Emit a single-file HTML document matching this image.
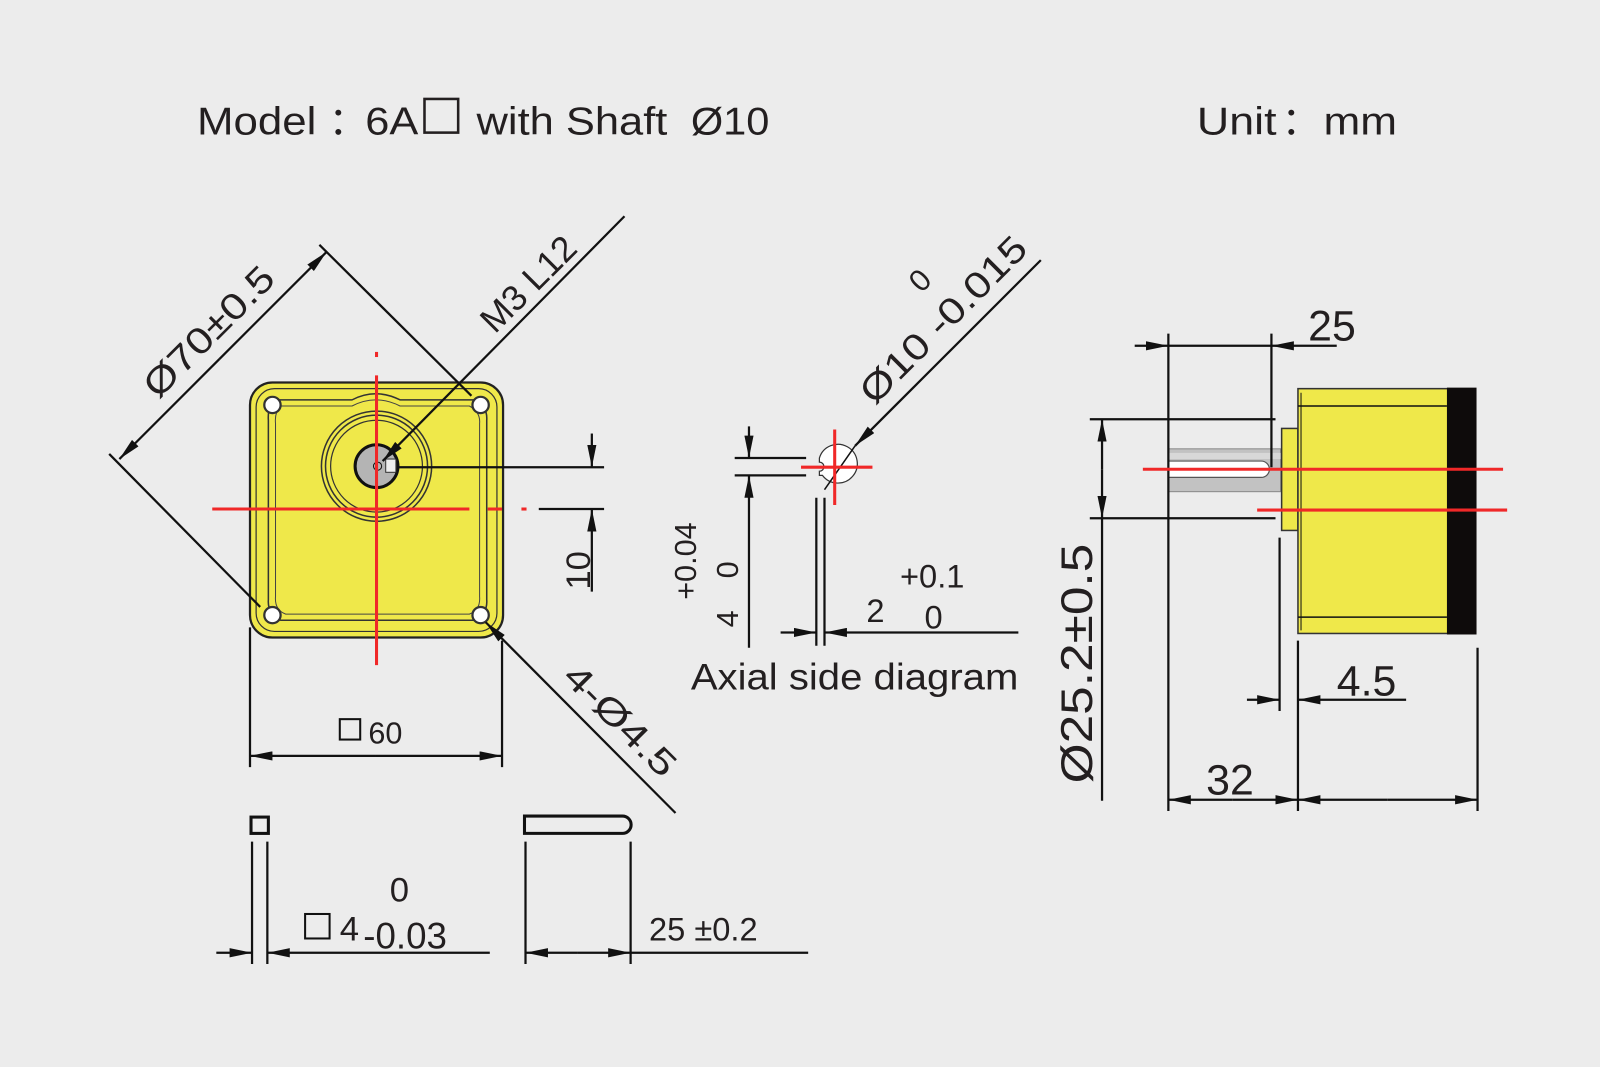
<!DOCTYPE html>
<html><head><meta charset="utf-8"><style>
html,body{margin:0;padding:0;background:#ececec;}
svg{display:block;}
text{font-family:"Liberation Sans",sans-serif;fill:#231f20;}
</style></head><body>
<svg width="1600" height="1067" viewBox="0 0 1568 1046" preserveAspectRatio="none" xmlns="http://www.w3.org/2000/svg">
<defs>
<marker id="a" viewBox="0 0 22 9" refX="22" refY="4.5" markerWidth="22" markerHeight="9" markerUnits="userSpaceOnUse" orient="auto"><path d="M0,0 L22,4.5 L0,9 z" fill="#111"/></marker>
</defs>
<rect width="1568" height="1046" fill="#ececec"/>
<text x="193" y="132" font-size="38" textLength="117" lengthAdjust="spacingAndGlyphs">Model</text>
<text x="322" y="132" font-size="38">：</text>
<text x="358" y="132" font-size="38" textLength="52" lengthAdjust="spacingAndGlyphs">6A</text>
<rect x="416" y="97" width="33" height="33" fill="none" stroke="#231f20" stroke-width="2.5"/>
<text x="467" y="132" font-size="38" textLength="187" lengthAdjust="spacingAndGlyphs">with Shaft</text>
<text x="677" y="132" font-size="38" textLength="77" lengthAdjust="spacingAndGlyphs">Ø10</text>
<text x="1173" y="132" font-size="38" textLength="78" lengthAdjust="spacingAndGlyphs">Unit</text>
<text x="1256" y="132" font-size="38">：</text>
<text x="1297" y="132" font-size="38" textLength="72" lengthAdjust="spacingAndGlyphs">mm</text>

<g stroke="#111" stroke-width="2.2" fill="none">
<rect x="245" y="375" width="248" height="250" rx="22" fill="#efe84a" stroke="#222"/>
<rect x="251" y="381" width="236" height="238" rx="18" stroke="#333" stroke-width="1.2"/>
<path d="M270,392 H345 Q368,380 392,392 H465 Q478,398 477,412 V588 Q478,602 465,608 H275 Q262,602 263,588 V412 Q262,398 270,392 Z" stroke="#333" stroke-width="1.5"/>
<path d="M275,398 H345 Q368,386 392,398 H460 Q471,404 470,415 V585 Q471,598 460,602 H280 Q269,598 270,585 V415 Q269,404 275,398 Z" stroke="#444" stroke-width="1"/>
<circle cx="267" cy="397" r="8" fill="#fff" stroke="#333"/>
<circle cx="471" cy="397" r="8" fill="#fff" stroke="#333"/>
<circle cx="267" cy="603" r="8" fill="#fff" stroke="#333"/>
<circle cx="471" cy="603" r="8" fill="#fff" stroke="#333"/>
<circle cx="369" cy="457" r="54" stroke="#333" stroke-width="1.5"/>
<circle cx="369" cy="457" r="50" stroke="#333" stroke-width="1.5"/>
<circle cx="369" cy="457" r="45" stroke="#333" stroke-width="1.2"/>
<circle cx="369" cy="457" r="21" fill="#b4b4b4" stroke="#111" stroke-width="3"/>
<rect x="378" y="450" width="10" height="13" fill="#eee" stroke="#333" stroke-width="1"/>
<circle cx="370" cy="457" r="4" stroke="#111" stroke-width="1"/>
</g>
<g stroke="#f02828" stroke-width="3">
<line x1="369" y1="345" x2="369" y2="350"/>
<line x1="369" y1="368" x2="369" y2="652"/>
<line x1="208" y1="499" x2="460" y2="499"/>
<line x1="478" y1="499" x2="492" y2="499"/>
<line x1="511" y1="499" x2="516" y2="499"/>
</g>
<g stroke="#111" stroke-width="2.2" fill="none">
<line x1="107" y1="445" x2="255" y2="595"/>
<line x1="313" y1="240" x2="462" y2="388"/>
<line x1="215" y1="352" x2="117" y2="450" marker-end="url(#a)"/>
<line x1="215" y1="352" x2="320" y2="247" marker-end="url(#a)"/>
<line x1="612" y1="212" x2="375" y2="452" marker-end="url(#a)"/>
<line x1="390" y1="458" x2="592" y2="458"/>
<line x1="528" y1="499" x2="592" y2="499"/>
<line x1="580" y1="425" x2="580" y2="458" marker-end="url(#a)"/>
<line x1="580" y1="580" x2="580" y2="499" marker-end="url(#a)"/>
<line x1="662" y1="797" x2="476" y2="610" marker-end="url(#a)"/>
<line x1="245" y1="615" x2="245" y2="752"/>
<line x1="492" y1="628" x2="492" y2="752"/>
<line x1="368" y1="741" x2="245" y2="741" marker-end="url(#a)"/>
<line x1="368" y1="741" x2="492" y2="741" marker-end="url(#a)"/>
<rect x="333" y="705" width="20" height="20" stroke-width="2"/>
<rect x="246" y="801" width="17" height="16" stroke-width="3"/>
<line x1="247" y1="825" x2="247" y2="945"/>
<line x1="262" y1="825" x2="262" y2="945"/>
<line x1="212" y1="934" x2="247" y2="934" marker-end="url(#a)"/>
<line x1="480" y1="934" x2="262" y2="934" marker-end="url(#a)"/>
<path d="M514,800 H610 A8.5,8.5 0 0 1 610,817 H514 Z" stroke-width="3"/>
<line x1="515" y1="825" x2="515" y2="945"/>
<line x1="618" y1="825" x2="618" y2="945"/>
<line x1="566" y1="934" x2="515" y2="934" marker-end="url(#a)"/>
<line x1="566" y1="934" x2="618" y2="934" marker-end="url(#a)"/>
<line x1="618" y1="934" x2="792" y2="934"/>
<rect x="299" y="896" width="24" height="24" stroke-width="2"/>
<path d="M803,449 A19,19 0 1 1 806,466 L803,466 L803,462 A4,4 0 0 0 803,453 Z" fill="#fff" stroke="#333" stroke-width="1.2"/>
<line x1="720" y1="449" x2="790" y2="449"/>
<line x1="720" y1="466" x2="790" y2="466"/>
<line x1="734" y1="418" x2="734" y2="449" marker-end="url(#a)"/>
<line x1="734" y1="635" x2="734" y2="466" marker-end="url(#a)"/>
<line x1="800" y1="488" x2="800" y2="633"/>
<line x1="808" y1="488" x2="808" y2="633"/>
<line x1="765" y1="620" x2="800" y2="620" marker-end="url(#a)"/>
<line x1="998" y1="620" x2="808" y2="620" marker-end="url(#a)"/>
<line x1="1020" y1="255" x2="838" y2="437" marker-end="url(#a)"/>
<line x1="838" y1="437" x2="808" y2="480" stroke-width="1.5"/>
</g>
<g stroke="#f02828" stroke-width="3">
<line x1="785" y1="458" x2="855" y2="458"/>
<line x1="818" y1="421" x2="818" y2="495"/>
</g>
<g stroke="#111" stroke-width="2.2" fill="none">
<rect x="1145" y="440" width="110" height="42" fill="#c2c2c2" stroke="#888" stroke-width="1"/>
<rect x="1145" y="444" width="110" height="6" fill="#d8d8d8" stroke="none"/>
<path d="M1145,452 H1236 A8,8 0 0 1 1236,468 H1145" fill="#fff" stroke="#555" stroke-width="1.2"/>
<rect x="1256" y="420" width="16" height="100" fill="#efe84a" stroke="#333" stroke-width="1.5"/>
<rect x="1272" y="381" width="148" height="240" fill="#efe84a" stroke="#333" stroke-width="1.5"/>
<rect x="1418" y="380" width="29" height="242" fill="#0e0b0b" stroke="none"/>
<line x1="1272" y1="398" x2="1418" y2="398" stroke-width="1.5"/>
<line x1="1272" y1="605" x2="1418" y2="605" stroke-width="1.5"/>
<line x1="1275" y1="385" x2="1275" y2="618" stroke-width="1"/>
<line x1="1145" y1="327" x2="1145" y2="795"/>
<line x1="1246" y1="327" x2="1246" y2="458"/>
<line x1="1112" y1="339" x2="1145" y2="339" marker-end="url(#a)"/>
<line x1="1145" y1="339" x2="1246" y2="339"/>
<line x1="1310" y1="339" x2="1246" y2="339" marker-end="url(#a)"/>
<line x1="1068" y1="411" x2="1250" y2="411"/>
<line x1="1068" y1="508" x2="1250" y2="508"/>
<line x1="1080" y1="460" x2="1080" y2="411" marker-end="url(#a)"/>
<line x1="1080" y1="460" x2="1080" y2="508" marker-end="url(#a)"/>
<line x1="1080" y1="508" x2="1080" y2="785"/>
<line x1="1254" y1="527" x2="1254" y2="697"/>
<line x1="1272" y1="628" x2="1272" y2="795"/>
<line x1="1448" y1="635" x2="1448" y2="795"/>
<line x1="1222" y1="686" x2="1254" y2="686" marker-end="url(#a)"/>
<line x1="1378" y1="686" x2="1272" y2="686" marker-end="url(#a)"/>
<line x1="1208" y1="784" x2="1145" y2="784" marker-end="url(#a)"/>
<line x1="1208" y1="784" x2="1272" y2="784" marker-end="url(#a)"/>
<line x1="1360" y1="784" x2="1272" y2="784" marker-end="url(#a)"/>
<line x1="1360" y1="784" x2="1448" y2="784" marker-end="url(#a)"/>
</g>
<g stroke="#f02828" stroke-width="3">
<line x1="1120" y1="460" x2="1473" y2="460"/>
<line x1="1232" y1="500" x2="1477" y2="500"/>
</g>
<g font-size="34">
<text transform="translate(155,392) rotate(-45)" font-size="36" textLength="165" lengthAdjust="spacingAndGlyphs">Ø70±0.5</text>
<text transform="translate(485,328) rotate(-45)" font-size="35">M3 L12</text>
<text transform="translate(578,578) rotate(-90)">10</text>
<text transform="translate(550,665) rotate(45)" font-size="35" textLength="140" lengthAdjust="spacingAndGlyphs">4-Ø4.5</text>
<text x="361" y="729" font-size="30">60</text>
<text x="382" y="884">0</text>
<text x="333" y="922">4</text>
<text x="356" y="930" font-size="36">-0.03</text>
<text x="636" y="922" font-size="32">25 ±0.2</text>
<text transform="translate(903,288) rotate(-45)" font-size="30">0</text>
<text transform="translate(857,398) rotate(-45)" font-size="36" textLength="215" lengthAdjust="spacingAndGlyphs">Ø10 -0.015</text>
<text transform="translate(682,588) rotate(-90)" font-size="30">+0.04</text>
<text transform="translate(723,567) rotate(-90)" font-size="30">0</text>
<text transform="translate(723,615) rotate(-90)" font-size="30">4</text>
<text x="849" y="610" font-size="32">2</text>
<text x="882" y="576" font-size="32">+0.1</text>
<text x="906" y="616" font-size="32">0</text>
<text x="677" y="676" font-size="36" textLength="321" lengthAdjust="spacingAndGlyphs">Axial side diagram</text>
<text x="1282" y="334" font-size="42">25</text>
<text x="1310" y="682" font-size="42">4.5</text>
<text x="1182" y="779" font-size="42">32</text>
<text transform="translate(1070,768) rotate(-90)" font-size="44" textLength="235" lengthAdjust="spacingAndGlyphs">Ø25.2±0.5</text>
</g>
</svg>
</body></html>
